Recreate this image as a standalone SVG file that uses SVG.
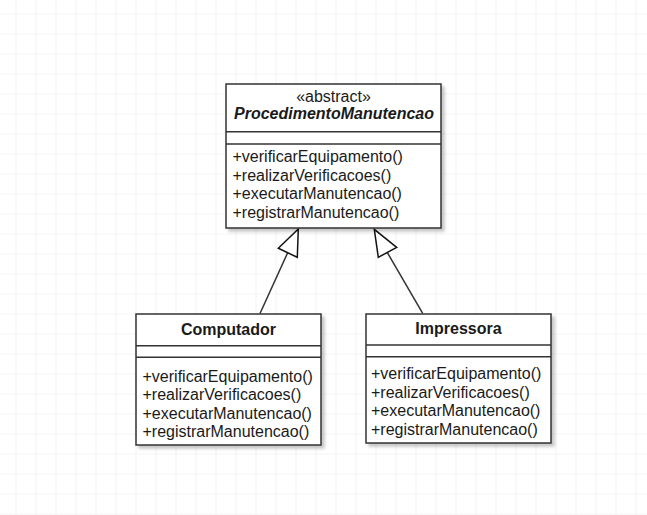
<svg xmlns="http://www.w3.org/2000/svg" width="647" height="515" viewBox="0 0 647 515">
  <style>
    .box { fill: #ffffff; stroke: #333333; stroke-width: 1.5; }
    .sep { stroke: #333333; stroke-width: 1.5; fill: none; }
    .txt { font-family: "Liberation Sans", Arial, sans-serif; font-size: 16px; fill: #1a1a1a; }
    .title { font-weight: bold; text-anchor: middle; }
    .abs { font-weight: bold; font-style: italic; text-anchor: middle; }
    .stereo { text-anchor: middle; }
    .edge { stroke: #333333; stroke-width: 1.5; fill: none; }
    .head { fill: #ffffff; stroke: #111111; stroke-width: 1.5; stroke-linejoin: miter; }
  </style>
  <defs>
    <pattern id="grid" x="15.5" y="13.5" width="20" height="20" patternUnits="userSpaceOnUse">
      <path d="M0 0 H20 M0 0 V20" stroke="#ebebeb" stroke-width="1.2" fill="none"/>
    </pattern>
    <filter id="shadow" x="-10%" y="-10%" width="130%" height="130%">
      <feDropShadow dx="3" dy="3" stdDeviation="1.5" flood-color="#000000" flood-opacity="0.22"/>
    </filter>
  </defs>
  <rect x="0" y="0" width="647" height="515" fill="#ffffff"/>
  <rect x="0" y="0" width="647" height="515" fill="url(#grid)"/>

  <g id="connectors">
    <line class="edge" x1="260" y1="313.5" x2="288" y2="252"/>
    <polygon class="head" points="298.3,229 278.3,248.3 297.3,257.3"/>
    <line class="edge" x1="422.7" y1="313.3" x2="387" y2="252"/>
    <polygon class="head" points="374.3,229.3 378.3,257.3 396.7,247.3"/>
  </g>

  <g id="ProcedimentoManutencao">
    <rect class="box" x="226" y="84" width="215" height="144" filter="url(#shadow)"/>
    <line class="sep" x1="226" y1="131.7" x2="441" y2="131.7"/>
    <line class="sep" x1="226" y1="144" x2="441" y2="144"/>
    <text class="txt stereo" x="333.5" y="102">«abstract»</text>
    <text class="txt abs" x="334" y="118.5">ProcedimentoManutencao</text>
    <text class="txt" x="232.5" y="162">+verificarEquipamento()</text>
    <text class="txt" x="232.5" y="180.7">+realizarVerificacoes()</text>
    <text class="txt" x="232.5" y="199.3">+executarManutencao()</text>
    <text class="txt" x="232.5" y="218">+registrarManutencao()</text>
  </g>

  <g id="Computador">
    <rect class="box" x="136" y="314" width="185" height="131" filter="url(#shadow)"/>
    <line class="sep" x1="136" y1="345.7" x2="321" y2="345.7"/>
    <line class="sep" x1="136" y1="357.3" x2="321" y2="357.3"/>
    <text class="txt title" x="228.5" y="335">Computador</text>
    <text class="txt" x="142.5" y="381.7">+verificarEquipamento()</text>
    <text class="txt" x="142.5" y="400">+realizarVerificacoes()</text>
    <text class="txt" x="142.5" y="418.5">+executarManutencao()</text>
    <text class="txt" x="142.5" y="437">+registrarManutencao()</text>
  </g>

  <g id="Impressora">
    <rect class="box" x="366" y="314" width="185" height="129" filter="url(#shadow)"/>
    <line class="sep" x1="366" y1="345" x2="551" y2="345"/>
    <line class="sep" x1="366" y1="356.7" x2="551" y2="356.7"/>
    <text class="txt title" x="458.5" y="334.3">Impressora</text>
    <text class="txt" x="371" y="379">+verificarEquipamento()</text>
    <text class="txt" x="371" y="397.5">+realizarVerificacoes()</text>
    <text class="txt" x="371" y="416">+executarManutencao()</text>
    <text class="txt" x="371" y="434.5">+registrarManutencao()</text>
  </g>
</svg>
